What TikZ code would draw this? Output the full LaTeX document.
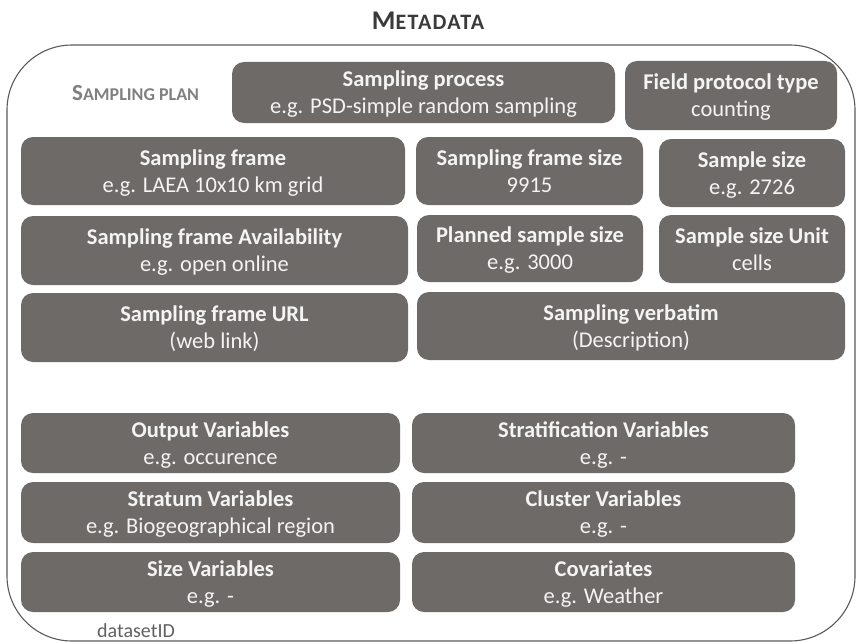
\documentclass[tikz,border=0pt]{standalone}
\usepackage{fontspec}
\setmainfont{Carlito}
\definecolor{boxgray}{HTML}{6E6A67}
\definecolor{txtwhite}{HTML}{F4F4F4}
\definecolor{labelgray}{HTML}{808080}
\definecolor{framegray}{HTML}{5A5A5A}
\definecolor{titlegray}{HTML}{3A3A3A}
\definecolor{dsgray}{HTML}{606060}
\tikzset{
  gbox/.style={fill=boxgray, rounded corners=12pt, inner sep=0pt, draw=none},
  ttl/.style={font=\bfseries\fontsize{22.5}{27}\selectfont, text=txtwhite, inner sep=0pt, anchor=base},
  subl/.style={font=\fontsize{22.5}{27}\selectfont, text=txtwhite, inner sep=0pt, anchor=base},
}
\newcommand\gboxit[7]{%
  \node[gbox, minimum width={(#4-#2)*1pt}, minimum height={(#5-#3)*1pt}] (#1) at ({(#2+#4)/2},{-(#3+#5)/2}) {};
  \node[ttl] (#1-t) at ({(#2+#4)/2},{-(#3+#5)/2+6}) {#6};
  \node[subl] (#1-s) at ({(#2+#4)/2},{-(#3+#5)/2-21}) {#7};}
\begin{document}
\begin{tikzpicture}[x=1pt,y=1pt]
\useasboundingbox (0,0) rectangle (856,-642);
\node[draw=framegray, line width=1.1pt, rounded corners=65pt, minimum width=848pt, minimum height=596pt, inner sep=0pt] (frame) at (431,-343) {};
\node[anchor=base, inner sep=0pt, text=titlegray, font=\bfseries] (title) at (428,-30)
  {\addfontfeature{LetterSpace=6}\fontsize{27}{30}\selectfont M\fontsize{22}{26}\selectfont ETADATA};
\node[anchor=base west, inner sep=0pt, text=labelgray, font=\bfseries] (plan) at (72,-100)
  {\fontsize{23}{26}\selectfont S\fontsize{18}{22}\selectfont AMPLING PLAN};
\gboxit{sp}{232}{62}{615}{123}{Sampling process}{e.g. PSD-simple random sampling}
\gboxit{fp}{625}{61}{837}{130}{Field protocol type}{counting}
\gboxit{sf}{21}{137}{405}{205}{Sampling frame}{e.g. LAEA 10x10 km grid}
\gboxit{sfs}{416}{137}{643}{205}{Sampling frame size}{9915}
\gboxit{ss}{659}{139}{845}{207}{Sample size}{e.g. 2726}
\gboxit{sfa}{21}{216}{408}{285}{Sampling frame Availability}{e.g. open online}
\gboxit{pss}{417}{215}{643}{282}{Planned sample size}{e.g. 3000}
\gboxit{ssu}{659}{215}{845}{283}{Sample size Unit}{cells}
\gboxit{url}{21}{293}{408}{362}{Sampling frame URL}{(web link)}
\gboxit{vb}{417}{292}{845}{360}{Sampling verbatim}{(Description)}
\gboxit{ov}{21}{413}{400}{473}{Output Variables}{e.g. occurence}
\gboxit{stv}{412}{413}{795}{473}{Stratification Variables}{e.g. -}
\gboxit{sv}{21}{482}{400}{543}{Stratum Variables}{e.g. Biogeographical region}
\gboxit{cv}{412}{482}{795}{543}{Cluster Variables}{e.g. -}
\gboxit{szv}{21}{552}{400}{612}{Size Variables}{e.g. -}
\gboxit{cov}{412}{552}{795}{612}{Covariates}{e.g. Weather}
\node[anchor=base west, inner sep=0pt, text=dsgray, font=\fontsize{20}{24}\selectfont] (ds) at (97,-637) {datasetID};
\end{tikzpicture}
\end{document}
